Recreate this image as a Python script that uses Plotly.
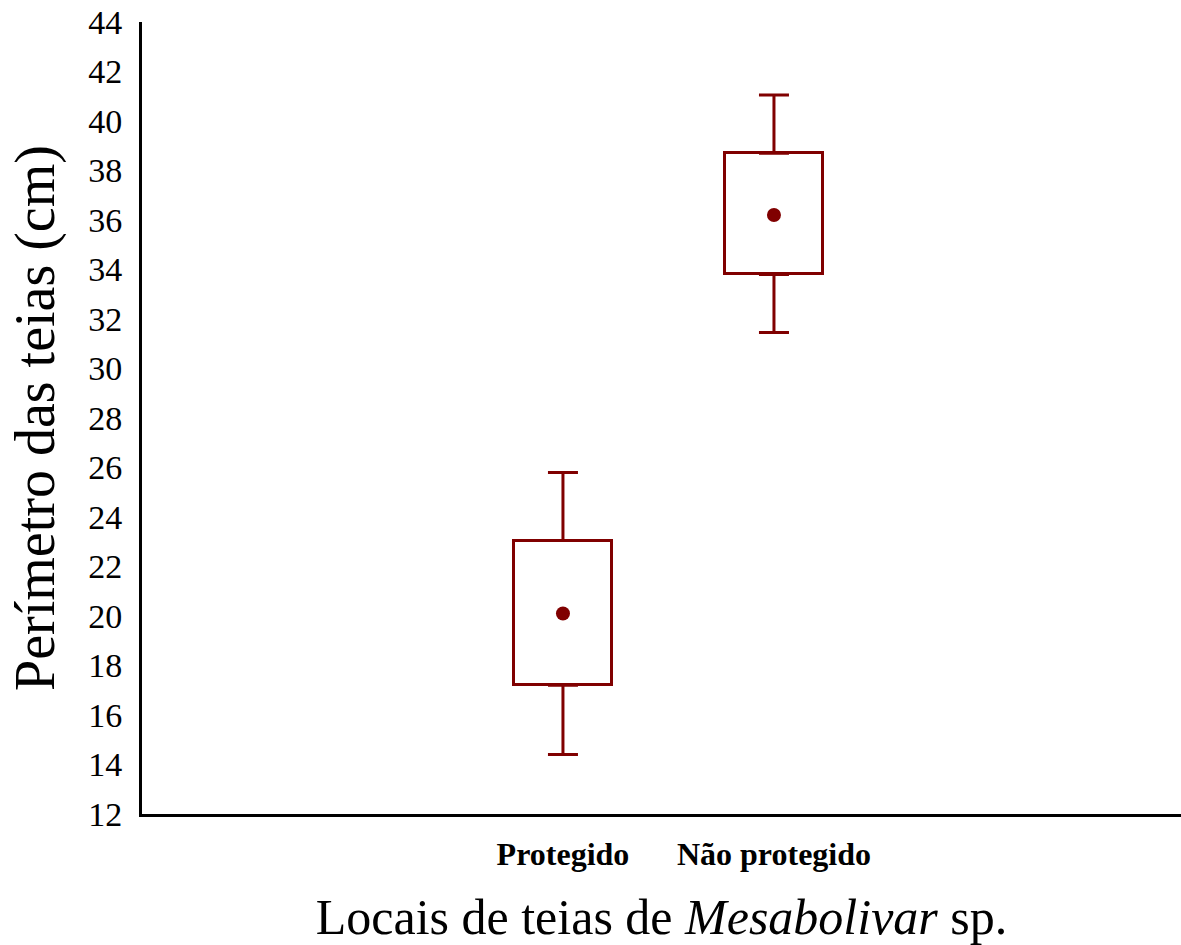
import plotly.graph_objects as go

categories = ["Protegido", "Não protegido"]
means = [20.1, 36.2]
box_low = [17.2, 33.8]
box_high = [23.05, 38.7]
whisk_low = [14.4, 31.45]
whisk_high = [25.8, 41.05]
y_ticks = list(range(12, 45, 2))

RED = "#800000"
FONT = "Liberation Serif"

fig = go.Figure()

# boxes
fig.add_trace(go.Bar(
    x=categories,
    y=[h - l for h, l in zip(box_high, box_low)],
    base=box_low,
    width=0.464,
    marker=dict(color="white", line=dict(color=RED, width=3)),
    showlegend=False,
))

# upper whiskers
fig.add_trace(go.Scatter(
    x=categories, y=box_high, mode="markers",
    marker=dict(size=1, opacity=0),
    error_y=dict(type="data", symmetric=False,
                 array=[w - h for w, h in zip(whisk_high, box_high)],
                 arrayminus=[0, 0], color=RED, thickness=3, width=15),
    showlegend=False,
))
# lower whiskers
fig.add_trace(go.Scatter(
    x=categories, y=box_low, mode="markers",
    marker=dict(size=1, opacity=0),
    error_y=dict(type="data", symmetric=False,
                 array=[0, 0],
                 arrayminus=[l - w for l, w in zip(box_low, whisk_low)],
                 color=RED, thickness=3, width=15),
    showlegend=False,
))
# means
fig.add_trace(go.Scatter(
    x=categories, y=means, mode="markers",
    marker=dict(size=14, color=RED),
    showlegend=False,
))

fig.update_layout(
    width=1181, height=945,
    margin=dict(l=142, r=0, t=22, b=131),
    paper_bgcolor="white", plot_bgcolor="white",
    font=dict(family=FONT, color="black"),
    bargap=0,
)
fig.update_xaxes(
    type="category",
    range=[-1.995, 2.929],
    automargin=False,
    showline=True, linecolor="black", linewidth=3,
    showgrid=False, zeroline=False, ticks="",
    tickfont=dict(family=FONT, size=32, weight="bold"),
    ticklabelstandoff=10,
    title=dict(text="Locais de teias de <i>Mesabolivar</i> sp.",
               font=dict(family=FONT, size=50), standoff=52),
)
fig.update_yaxes(
    range=[12, 44],
    tickvals=y_ticks,
    automargin=False,
    ticklabeloverflow="allow",
    showline=True, linecolor="black", linewidth=3,
    showgrid=False, zeroline=False, ticks="",
    tickfont=dict(family=FONT, size=34),
    ticklabelstandoff=10,
    title=dict(text="Perímetro das teias (cm)",
               font=dict(family=FONT, size=56), standoff=16),
)

fig.write_html(
    "out.html",
    config={"displayModeBar": False},
    post_script="document.body.style.margin='0px';document.body.style.overflow='hidden';",
)
